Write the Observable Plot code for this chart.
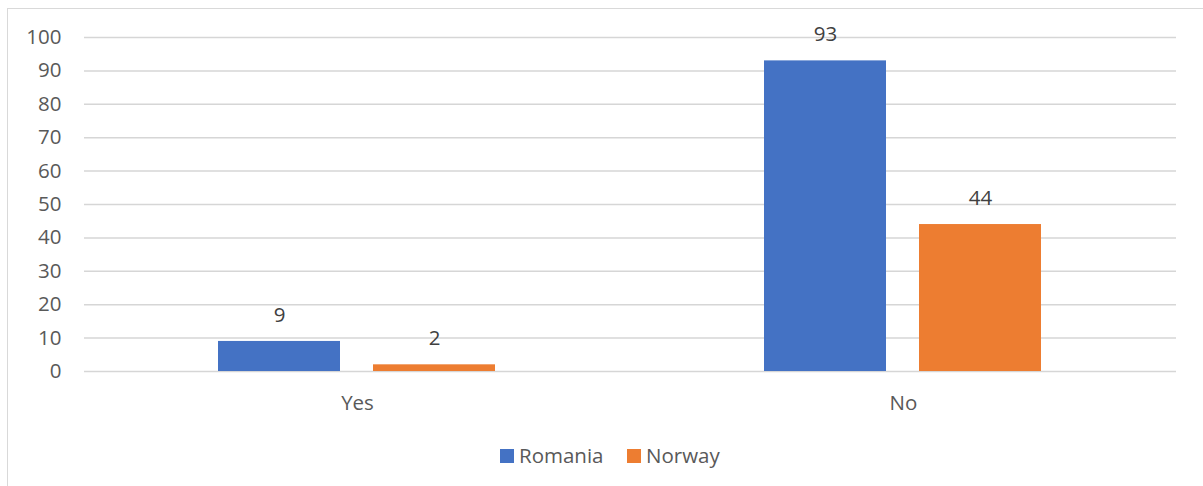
<!DOCTYPE html>
<html>
<head>
<meta charset="utf-8">
<script src="https://cdn.jsdelivr.net/npm/d3@7"></script>
<script src="https://cdn.jsdelivr.net/npm/@observablehq/plot@0.6"></script>
<style>
  html, body { margin: 0; padding: 0; background: #fff; overflow: hidden; width: 1203px; height: 486px; }
  #frame { position: absolute; left: 7px; top: 8px; width: 1400px; height: 600px;
           border-left: 1.5px solid #d9d9d9; border-top: 1.5px solid #d9d9d9; }
  #chart { position: absolute; left: 0; top: 0; }
  .sw { position: absolute; width: 14px; height: 14px; }
  .lt { position: absolute; font-family: 'Open Sans', sans-serif; font-size: 20.5px; line-height: 20px; color: #595959; white-space: nowrap; }
</style>
</head>
<body>
<div id="frame"></div>
<div id="chart"></div>
<div id="legend"></div>
<script>
const categories = ["Yes", "No"];
const series = ["Romania", "Norway"];
const romania = [9, 93];
const norway = [2, 44];
const colors = ["#4472c4", "#ed7d31"];
const yTicks = [0, 10, 20, 30, 40, 50, 60, 70, 80, 90, 100];

const seriesValues = [romania, norway];
const data = [];
categories.forEach((c, i) => {
  series.forEach((s, j) => data.push({category: c, series: s, value: seriesValues[j][i]}));
});

const chart = Plot.plot({
  width: 1203,
  height: 420,
  marginLeft: 83,
  marginRight: 27,
  marginTop: 37,
  marginBottom: 49,
  style: {fontFamily: "'Open Sans', sans-serif", fontSize: "20.5px", color: "#595959", background: "transparent", overflow: "visible"},
  fx: {domain: categories, padding: 0, label: null, axis: "bottom", tickSize: 0, tickPadding: 24},
  x: {domain: series, paddingInner: 0.2115, paddingOuter: 0.859, axis: null},
  y: {domain: [0, 100], ticks: yTicks, label: null, tickSize: 0, tickPadding: 23},
  color: {domain: series, range: colors},
  marks: [
    Plot.gridY(yTicks, {stroke: "#d6d6d6", strokeOpacity: 1, strokeWidth: 1.5}),
    Plot.barY(data, {fx: "category", x: "series", y: "value", fill: "series"}),
    Plot.text(data, {fx: "category", x: "series", y: "value", text: d => String(d.value), dy: -26, fill: "#404040", fontSize: 20.5})
  ]
});
document.getElementById("chart").appendChild(chart);

// Legend
const legend = document.getElementById("legend");
const legendX = [500, 627];
series.forEach((s, i) => {
  const sw = document.createElement("div");
  sw.className = "sw";
  sw.style.left = legendX[i] + "px";
  sw.style.top = "449px";
  sw.style.background = colors[i];
  legend.appendChild(sw);
  const t = document.createElement("div");
  t.className = "lt";
  t.style.left = (legendX[i] + 19) + "px";
  t.style.top = "445px";
  t.textContent = s;
  legend.appendChild(t);
});
</script>
</body>
</html>
